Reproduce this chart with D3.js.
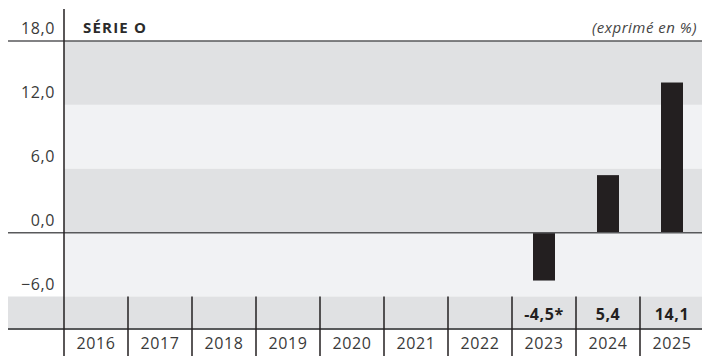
<!DOCTYPE html>
<html>
<head>
<meta charset="utf-8">
<script src="https://cdn.jsdelivr.net/npm/d3@7"></script>
<style>
  body { margin: 0; background: #fff; }
  text { font-family: "Open Sans", "Noto Sans", sans-serif; }
</style>
</head>
<body>
<div id="chart"></div>
<script>
// data
var years = [2016, 2017, 2018, 2019, 2020, 2021, 2022, 2023, 2024, 2025];
var values = [null, null, null, null, null, null, null, -4.5, 5.4, 14.1];
var valueLabels = ["", "", "", "", "", "", "", "-4,5*", "5,4", "14,1"];
var yTicks = [18, 12, 6, 0, -6];
var title = "SÉRIE O";
var unitNote = "(exprimé en %)";

var width = 702, height = 356;
var left = 64, tableMid = 329;

var svg = d3.select("#chart").append("svg")
    .attr("width", width)
    .attr("height", height);

var x = d3.scaleBand().domain(years).range([left, left + 64 * years.length]);
var y = d3.scaleLinear().domain([-6, 18]).range([296.5, 41]);

// alternating bands
var bandData = [[18, 12, "#e0e1e3"], [12, 6, "#f1f2f4"], [6, 0, "#e0e1e3"], [0, -6, "#f1f2f4"]];
svg.selectAll(".band")
    .data(bandData)
    .enter()
    .append("rect")
    .attr("x", left)
    .attr("y", function(d) { return y(d[0]); })
    .attr("width", width - left)
    .attr("height", function(d) { return y(d[1]) - y(d[0]); })
    .style("fill", function(d) { return d[2]; });

// table row with values
svg.append("rect")
    .attr("x", 8)
    .attr("y", y(-6))
    .attr("width", width - 8)
    .attr("height", tableMid - y(-6))
    .style("fill", "#e0e1e3");

// bars
svg.selectAll(".bar")
    .data(years.map(function(yr, i) { return { year: yr, value: values[i] }; }).filter(function(d) { return d.value != null; }))
    .enter()
    .append("rect")
    .attr("class", "bar")
    .attr("x", function(d) { return x(d.year) + x.bandwidth() / 2 - 11; })
    .attr("width", 22)
    .attr("y", function(d) { return y(Math.max(0, d.value)); })
    .attr("height", function(d) { return Math.abs(y(d.value) - y(0)); })
    .style("fill", "#231f20");

// horizontal lines: top, zero, table separator
[y(18), y(0)].forEach(function(yy) {
    svg.append("line")
        .attr("x1", 8).attr("x2", width)
        .attr("y1", yy).attr("y2", yy)
        .style("stroke", "#58595b")
        .style("stroke-width", 1.5);
});
svg.append("line")
    .attr("x1", 8).attr("x2", width)
    .attr("y1", tableMid).attr("y2", tableMid)
    .style("stroke", "#58595b")
    .style("stroke-width", 2);

// column separators in the table
svg.selectAll(".sep")
    .data(years.slice(1))
    .enter()
    .append("line")
    .attr("x1", function(d) { return x(d); })
    .attr("x2", function(d) { return x(d); })
    .attr("y1", y(-6))
    .attr("y2", height)
    .style("stroke", "#231f20")
    .style("stroke-width", 1.5);

// vertical axis
svg.append("line")
    .attr("x1", left).attr("x2", left)
    .attr("y1", 9).attr("y2", height)
    .style("stroke", "#231f20")
    .style("stroke-width", 1.5);

// tick labels sit just above their line
var fmt = function(v) { return d3.format(".1f")(v).replace(".", ","); };
svg.selectAll(".tick-label")
    .data(yTicks)
    .enter()
    .append("text")
    .attr("x", 55)
    .attr("y", function(d) { return y(d) - 7; })
    .attr("text-anchor", "end")
    .style("font-size", "16px")
    .style("letter-spacing", "0.6px")
    .style("fill", "#3a3a3a")
    .text(fmt);

// title and unit
svg.append("text")
    .attr("x", 83)
    .attr("y", 33)
    .style("font-size", "15px")
    .style("font-weight", "bold")
    .style("letter-spacing", "1.2px")
    .style("fill", "#2b2b2b")
    .text(title);

svg.append("text")
    .attr("x", 697)
    .attr("y", 33)
    .attr("text-anchor", "end")
    .style("font-size", "15px")
    .style("font-style", "italic")
    .style("letter-spacing", "0.5px")
    .style("fill", "#444")
    .text(unitNote);

// value row
svg.selectAll(".val")
    .data(years)
    .enter()
    .append("text")
    .attr("x", function(d) { return x(d) + x.bandwidth() / 2; })
    .attr("y", 320)
    .attr("text-anchor", "middle")
    .style("font-size", "16px")
    .style("font-weight", "bold")
    .style("letter-spacing", "0.6px")
    .style("fill", "#231f20")
    .text(function(d, i) { return valueLabels[i]; });

// year row
svg.selectAll(".yr")
    .data(years)
    .enter()
    .append("text")
    .attr("x", function(d) { return x(d) + x.bandwidth() / 2; })
    .attr("y", 349)
    .attr("text-anchor", "middle")
    .style("font-size", "16px")
    .style("letter-spacing", "0.6px")
    .style("fill", "#3a3a3a")
    .text(function(d) { return d; });
</script>
</body>
</html>
